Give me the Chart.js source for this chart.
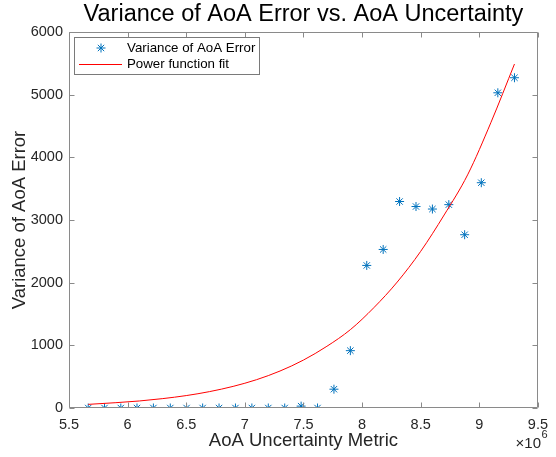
<!DOCTYPE html>
<html>
<head>
<meta charset="utf-8">
<script src="https://cdn.jsdelivr.net/npm/chart.js@4.4.0/dist/chart.umd.min.js"></script>
<style>
  html, body { margin: 0; padding: 0; background: #fff; }
  #wrap { width: 556px; height: 457px; }
</style>
</head>
<body>
<div id="wrap"><canvas id="varianceChart"></canvas></div>
<script>
// AoA uncertainty metric (units of 10^6) and measured variance of AoA error
const uncertaintyMetric = [5.664, 5.803, 5.942, 6.08, 6.22, 6.364, 6.503, 6.64, 6.78, 6.92,
                           7.06, 7.2, 7.34, 7.48, 7.62, 7.76, 7.9, 8.04, 8.18, 8.32,
                           8.46, 8.6, 8.74, 8.875, 9.017, 9.158, 9.3];
const errorVariance = [0, 0, 0, 0, 0, 0, 0, 0, 0, 0,
                       0, 0, 0, 30, 0, 300, 915, 2275, 2530, 3295,
                       3215, 3175, 3245, 2765, 3595, 5030, 5270];

// power function fit
const fitMetric = [5.664, 5.9, 6.1, 6.3, 6.5, 6.7, 6.9, 7.1, 7.3, 7.5,
                   7.7, 7.9, 8.1, 8.3, 8.5, 8.7, 8.9, 9.1, 9.3];
const fitVariance = [58, 85, 112, 150, 198, 262, 345, 452, 590, 765,
                     985, 1250, 1600, 2010, 2500, 3080, 3720, 4560, 5489];

const xTicks = [5.5, 6, 6.5, 7, 7.5, 8, 8.5, 9, 9.5];
const yTicks = [0, 1000, 2000, 3000, 4000, 5000, 6000];

const titleText = 'Variance of AoA Error vs. AoA Uncertainty';
const xLabel = 'AoA Uncertainty Metric';
const yLabel = 'Variance of AoA Error';
const seriesNames = ['Variance of AoA Error', 'Power function fit'];

const FONT = '"Liberation Sans", Arial, Helvetica, sans-serif';
const TEXT = '#262626';
const AXIS = '#8a8a8a';
const BLUE = '#0072BD';
const RED = '#FF0000';

// box, inward ticks, title, legend and the x10^6 note, MATLAB style
const matlabAxes = {
    id: 'matlabAxes',
    afterDraw(chart) {
        const ctx = chart.ctx;
        const area = chart.chartArea;
        const xs = chart.scales.x;
        const ys = chart.scales.y;
        const L = Math.round(area.left) + 0.5, R = Math.round(area.right) - 0.5;
        const T = Math.round(area.top) + 0.5, B = Math.round(area.bottom) - 0.5;
        const tick = 5;

        ctx.save();
        ctx.strokeStyle = AXIS;
        ctx.lineWidth = 1;
        ctx.beginPath();
        ctx.rect(L, T, R - L, B - T);
        xTicks.forEach(v => {
            const px = Math.round(xs.getPixelForValue(v)) + 0.5;
            ctx.moveTo(px, B); ctx.lineTo(px, B - tick);
            ctx.moveTo(px, T); ctx.lineTo(px, T + tick);
        });
        yTicks.forEach(v => {
            const py = Math.round(ys.getPixelForValue(v)) + 0.5;
            ctx.moveTo(L, py); ctx.lineTo(L + tick, py);
            ctx.moveTo(R, py); ctx.lineTo(R - tick, py);
        });
        ctx.stroke();

        // title
        ctx.fillStyle = '#000';
        ctx.font = '23.5px ' + FONT;
        ctx.textAlign = 'center';
        ctx.textBaseline = 'middle';
        ctx.fillText(titleText, (area.left + area.right) / 2, 15);

        // exponent note
        ctx.fillStyle = TEXT;
        ctx.textAlign = 'right';
        ctx.font = '15px ' + FONT;
        ctx.fillText('\u00d710', 541, 444);
        ctx.textAlign = 'left';
        ctx.font = '11px ' + FONT;
        ctx.fillText('6', 541.5, 435);

        // legend
        const lx = 74.5, ly = 37.5, lw = 185, lh = 37;
        ctx.fillStyle = '#fff';
        ctx.fillRect(lx, ly, lw, lh);
        ctx.strokeStyle = '#7a7a7a';
        ctx.strokeRect(lx, ly, lw, lh);
        const d0 = chart.data.datasets[1], d1 = chart.data.datasets[0];
        ctx.strokeStyle = d0.borderColor;
        ctx.lineWidth = 1;
        Chart.helpers.drawPoint(ctx, {pointStyle: 'star', radius: d0.pointRadius, borderWidth: 1, rotation: 0}, 101, 48);
        ctx.strokeStyle = d1.borderColor;
        ctx.beginPath();
        ctx.moveTo(79, 64.5); ctx.lineTo(122, 64.5);
        ctx.stroke();
        ctx.fillStyle = '#000';
        ctx.font = '13.3px ' + FONT;
        ctx.textBaseline = 'middle';
        ctx.fillText(seriesNames[0], 127, 48);
        ctx.fillText(seriesNames[1], 127, 64);
        ctx.restore();
    }
};

const scatterPoints = uncertaintyMetric.map((x, i) => ({x: x, y: errorVariance[i]}));
const fitPoints = fitMetric.map((x, i) => ({x: x, y: fitVariance[i]}));

new Chart(document.getElementById('varianceChart'), {
    type: 'scatter',
    data: {
        datasets: [
            {
                label: seriesNames[1],
                data: fitPoints,
                showLine: true,
                borderColor: RED,
                borderWidth: 1,
                pointRadius: 0,
                cubicInterpolationMode: 'monotone',
                order: 0,
            },
            {
                label: seriesNames[0],
                data: scatterPoints,
                pointStyle: 'star',
                pointRadius: 4.5,
                borderColor: BLUE,
                backgroundColor: BLUE,
                borderWidth: 1,
                order: 1,
            }
        ]
    },
    options: {
        responsive: true,
        maintainAspectRatio: false,
        animation: false,
        layout: { padding: { top: 32, right: 8, left: 0, bottom: 0 } },
        plugins: {
            legend: { display: false },
            title: { display: false },
            tooltip: { enabled: false }
        },
        scales: {
            x: {
                type: 'linear',
                min: 5.5,
                max: 9.5,
                afterFit: scale => { scale.height = 49; },
                afterBuildTicks: scale => { scale.ticks = xTicks.map(v => ({value: v})); },
                grid: { display: false, drawTicks: false },
                border: { display: false },
                ticks: {
                    padding: 8,
                    color: TEXT,
                    font: { family: FONT, size: 14.5 },
                    callback: v => String(v),
                    maxRotation: 0,
                    autoSkip: false
                },
                title: {
                    display: true,
                    text: xLabel,
                    color: TEXT,
                    font: { family: FONT, size: 18.5 },
                    padding: { top: 0, bottom: 5 }
                }
            },
            y: {
                type: 'linear',
                min: 0,
                max: 6000,
                afterFit: scale => { scale.width = 69; },
                afterBuildTicks: scale => { scale.ticks = yTicks.map(v => ({value: v})); },
                grid: { display: false, drawTicks: false },
                border: { display: false },
                ticks: {
                    padding: 6,
                    color: TEXT,
                    font: { family: FONT, size: 14.5 },
                    callback: v => String(v),
                    autoSkip: false
                },
                title: {
                    display: true,
                    text: yLabel,
                    color: TEXT,
                    font: { family: FONT, size: 18.5 },
                    padding: { top: 9, bottom: 0 }
                }
            }
        }
    },
    plugins: [matlabAxes]
});
</script>
</body>
</html>
